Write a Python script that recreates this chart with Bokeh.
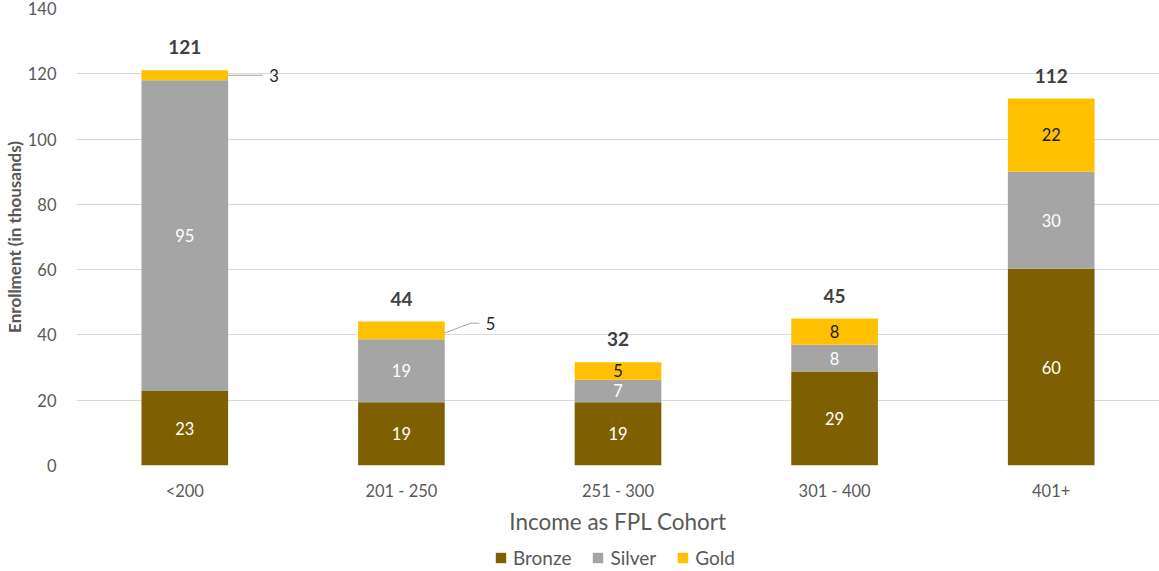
from bokeh.plotting import figure
from bokeh.layouts import column
from bokeh.models import Range1d, FixedTicker, ColumnDataSource, Legend, LegendItem
from bokeh.embed import file_html
from bokeh.resources import INLINE
from bokeh.core.properties import value

categories = ["<200", "201 - 250", "251 - 300", "301 - 400", "401+"]
bronze = [22.8, 19.4, 19.4, 28.8, 60.3]
silver = [95.2, 19.3, 6.9, 8.2, 29.8]
gold = [3.1, 5.4, 5.3, 8.0, 22.3]
series_names = ["Bronze", "Silver", "Gold"]
y_ticks = [0, 20, 40, 60, 80, 100, 120, 140]

FONT = "Lato"
COLORS = ["#7f6000", "#a5a5a5", "#ffc000"]
GRAY = "#595959"

n = len(categories)
xs = [i + 0.5 for i in range(n)]
totals = [b + s + g for b, s, g in zip(bronze, silver, gold)]

p = figure(width=1159, height=540, output_backend="svg", toolbar_location=None,
           x_range=Range1d(0, n), y_range=Range1d(0, 140),
           min_border_left=76, min_border_right=0, min_border_top=8, min_border_bottom=75)
p.outline_line_color = None
p.background_fill_color = "white"
p.border_fill_color = "white"

src = ColumnDataSource(dict(x=xs, bronze=bronze, silver=silver, gold=gold))
rs = p.vbar_stack(["bronze", "silver", "gold"], x="x", width=0.4, source=src,
                  color=COLORS, line_color=None)

# axes
p.xaxis.ticker = FixedTicker(ticks=xs)
p.xaxis.major_label_overrides = {x: c for x, c in zip(xs, categories)}
p.xaxis.axis_line_color = None
p.xaxis.major_tick_line_color = None
p.xaxis.minor_tick_line_color = None
p.xaxis.major_label_text_font = FONT
p.xaxis.major_label_text_font_size = "16.5px"
p.xaxis.major_label_text_color = GRAY
p.xaxis.major_label_standoff = 9
p.xaxis.axis_label = "Income as FPL Cohort"
p.xaxis.axis_label_text_font = FONT
p.xaxis.axis_label_text_font_style = "normal"
p.xaxis.axis_label_text_font_size = "22.5px"
p.xaxis.axis_label_text_color = GRAY
p.xaxis.axis_label_standoff = 4

p.yaxis.ticker = FixedTicker(ticks=y_ticks)
p.yaxis.axis_line_color = None
p.yaxis.major_tick_line_color = None
p.yaxis.minor_tick_line_color = None
p.yaxis.major_label_text_font = FONT
p.yaxis.major_label_text_font_size = "16.5px"
p.yaxis.major_label_text_color = GRAY
p.yaxis.major_label_standoff = 14
p.yaxis.axis_label = "Enrollment (in thousands)"
p.yaxis.axis_label_text_font = FONT
p.yaxis.axis_label_text_font_style = "bold"
p.yaxis.axis_label_text_font_size = "17px"
p.yaxis.axis_label_text_color = GRAY
p.yaxis.axis_label_standoff = 0

p.xgrid.grid_line_color = None
p.ygrid.grid_line_color = "#d9d9d9"
p.ygrid.grid_line_width = 1

# segment labels
lab_x, lab_y, lab_t, lab_c = [], [], [], []
for i in range(n):
    b, s, g = bronze[i], silver[i], gold[i]
    lab_x += [xs[i], xs[i]]
    lab_y += [b / 2, b + s / 2]
    lab_t += [str(round(b)), str(round(s))]
    lab_c += ["white", "white"]
    if i >= 2:
        lab_x.append(xs[i])
        lab_y.append(b + s + g / 2)
        lab_t.append(str(round(g)))
        lab_c.append("#1a1a1a")
p.text(x=lab_x, y=lab_y, text=lab_t, text_color=lab_c, text_align="center",
       text_baseline="middle", text_font=value(FONT), text_font_size="16.5px")

# callout labels for the two thin gold segments
y0 = bronze[0] + silver[0] + gold[0] / 2
p.line(x=[xs[0] + 0.2, xs[0] + 0.36], y=[y0, y0], line_color="#a6a6a6", line_width=1)
p.text(x=[xs[0] + 0.39], y=[y0], text=[str(round(gold[0]))], text_align="left",
       text_baseline="middle", text_font=value(FONT), text_font_size="16.5px", text_color="#262626")
y1 = bronze[1] + silver[1] + gold[1] / 2
p.line(x=[xs[1] + 0.2, xs[1] + 0.32, xs[1] + 0.36], y=[y1 - 0.8, y1 + 2.2, y1 + 2.2],
       line_color="#a6a6a6", line_width=1)
p.text(x=[xs[1] + 0.39], y=[y1 + 2.2], text=[str(round(gold[1]))], text_align="left",
       text_baseline="middle", text_font=value(FONT), text_font_size="16.5px", text_color="#262626")

# totals
p.text(x=xs, y=totals, text=[str(round(t)) for t in totals], text_align="center",
       text_baseline="middle", y_offset=-23, text_font=value(FONT), text_font_size="19px",
       text_font_style="bold", text_color="#404040")

# legend in a thin strip below
q = figure(width=1159, height=31, output_backend="svg", toolbar_location=None,
           x_range=Range1d(0, 1), y_range=Range1d(0, 1),
           min_border_left=0, min_border_right=0, min_border_top=0, min_border_bottom=0)
q.axis.visible = False
q.grid.grid_line_color = None
q.outline_line_color = None
items = []
for name, c in zip(series_names, COLORS):
    r = q.vbar(x=[5], top=[5], width=0.1, color=c, line_color=None)
    items.append(LegendItem(label=name, renderers=[r]))
legend = Legend(items=items, orientation="horizontal", location=(418, 2))
legend.label_text_font = FONT
legend.label_text_font_size = "19px"
legend.label_text_color = GRAY
legend.glyph_width = 13
legend.glyph_height = 13
legend.label_height = 20
legend.label_standoff = 6
legend.spacing = 20
legend.padding = 0
legend.margin = 0
legend.border_line_color = None
legend.background_fill_alpha = 0
q.add_layout(legend)

layout = column(p, q, spacing=0)
open("out.html", "w").write(file_html(layout, INLINE))
